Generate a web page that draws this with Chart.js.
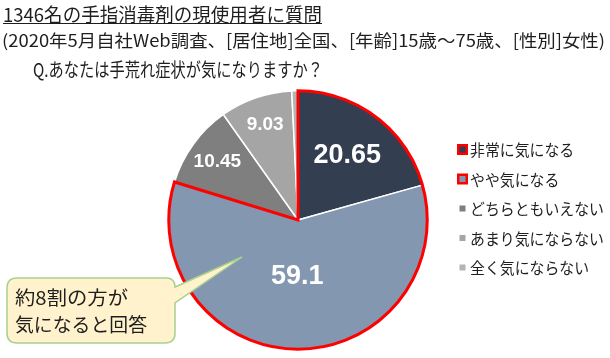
<!DOCTYPE html>
<html><head><meta charset="utf-8">
<script src="https://cdn.jsdelivr.net/npm/chart.js@4.4.0/dist/chart.umd.min.js"></script>
<style>
html,body{margin:0;padding:0;background:#fff;width:610px;height:358px;overflow:hidden;}
#wrap{position:relative;width:610px;height:358px;}
#c{position:absolute;left:0;top:0;}
svg{position:absolute;left:0;top:0;}
.t{position:absolute;white-space:nowrap;font-family:"Noto Sans CJK JP","Noto Sans",sans-serif;color:#1e1e1e;transform-origin:0 0;line-height:1;}
</style></head><body>
<div id="wrap">
<canvas id="c" width="610" height="358"></canvas>
<svg width="610" height="358"><path d="M17,278 H166 Q175,278 175,287 L242,257 L175,303 V333 Q175,343 165,343 H17 Q7,343 7,333 V288 Q7,278 17,278 Z" fill="#FFF2CC" stroke="#A9D18E" stroke-width="1.5"/></svg>
<div class="t" data-w="319" style="left:3px;top:4px;font-size:19px;text-decoration:underline;">1346名の手指消毒剤の現使用者に質問</div>
<div class="t" data-w="603" style="left:2px;top:31px;font-size:17px;">(2020年5月自社Web調査、[居住地]全国、[年齢]15歳～75歳、[性別]女性)</div>
<div class="t" data-w="290" style="left:33px;top:59px;font-size:19px;">Q.あなたは手荒れ症状が気になりますか？</div>
<div class="t" data-w="113" style="left:15px;top:287px;font-size:19px;">約8割の方が</div>
<div class="t" data-w="132" style="left:15px;top:314px;font-size:19px;">気になると回答</div>
</div>
<script>
const categories = ["非常に気になる","やや気になる","どちらともいえない","あまり気にならない","全く気にならない"];
const values = [20.65, 59.1, 10.45, 9.03, 0.77];
const valueLabels = ["20.65","59.1","10.45","9.03",""];

const colors = ["#333F50","#8497B0","#7F7F7F","#A5A5A5","#B4B4B4"];
const labelFont = [27, 27, 19, 19, 0];
const labelRadius = [0.63, 0.44, 0.77, 0.78, 0];
const highlighted = [true, true, false, false, false];

document.querySelectorAll('.t').forEach(el=>{
  const w = el.getBoundingClientRect().width;
  const target = +el.dataset.w;
  el.style.transform = 'scaleX(' + (target/w) + ')';
});

const cx = 298, cy = 220, R = 130;
const plugin = {
  id:'custom',
  afterDatasetsDraw(chart){
    const ctx = chart.ctx;
    const arcs = chart.getDatasetMeta(0).data;
    const idx = highlighted.map((h,i)=>h?i:-1).filter(i=>i>=0);
    const a0 = arcs[idx[0]], a1 = arcs[idx[idx.length-1]];
    ctx.save();
    ctx.strokeStyle = '#FF0000';
    ctx.lineWidth = 3;
    ctx.beginPath();
    ctx.moveTo(a0.x, a0.y);
    ctx.arc(a0.x, a0.y, a0.outerRadius, a0.startAngle, a1.endAngle);
    ctx.closePath();
    ctx.stroke();
    ctx.restore();
    arcs.forEach((a,i)=>{
      if(!valueLabels[i]) return;
      const mid = (a.startAngle + a.endAngle)/2;
      const r = a.outerRadius * labelRadius[i];
      ctx.save();
      ctx.fillStyle = '#FFFFFF';
      ctx.font = 'bold ' + labelFont[i] + 'px "Liberation Sans", Arial, sans-serif';
      ctx.textAlign = 'center';
      ctx.textBaseline = 'middle';
      ctx.fillText(valueLabels[i], a.x + Math.cos(mid)*r, a.y + Math.sin(mid)*r);
      ctx.restore();
    });
  },
  afterDraw(chart){
    const ctx = chart.ctx;
    const lx = 458, ly = 149, gap = 29.5;
    categories.forEach((c,i)=>{
      const y = ly + i*gap;
      ctx.save();
      if(highlighted[i]){
        ctx.fillStyle = '#FF0000';
        ctx.fillRect(lx-1, y-5, 11, 11);
      }
      ctx.fillStyle = colors[i];
      ctx.fillRect(lx+1.5, y-2.5, 6, 6);
      ctx.fillStyle = '#1e1e1e';
      ctx.font = '16px "Noto Sans CJK JP", sans-serif';
      ctx.textBaseline = 'middle';
      ctx.textAlign = 'left';
      ctx.translate(lx+12, y+1);
      ctx.scale(0.93, 1);
      ctx.fillText(c, 0, 0);
      ctx.restore();
    });
  }
};

new Chart(document.getElementById('c'), {
  type:'pie',
  data:{labels:categories, datasets:[{data:values, backgroundColor:colors, borderColor:'#FFFFFF', borderWidth:1.5}]},
  options:{
    responsive:false, animation:false,
    layout:{padding:{left:cx-R, right:610-(cx+R), top:cy-R, bottom:358-(cy+R)}},
    plugins:{legend:{display:false}, tooltip:{enabled:false}}
  },
  plugins:[plugin]
});
</script>
</body></html>
